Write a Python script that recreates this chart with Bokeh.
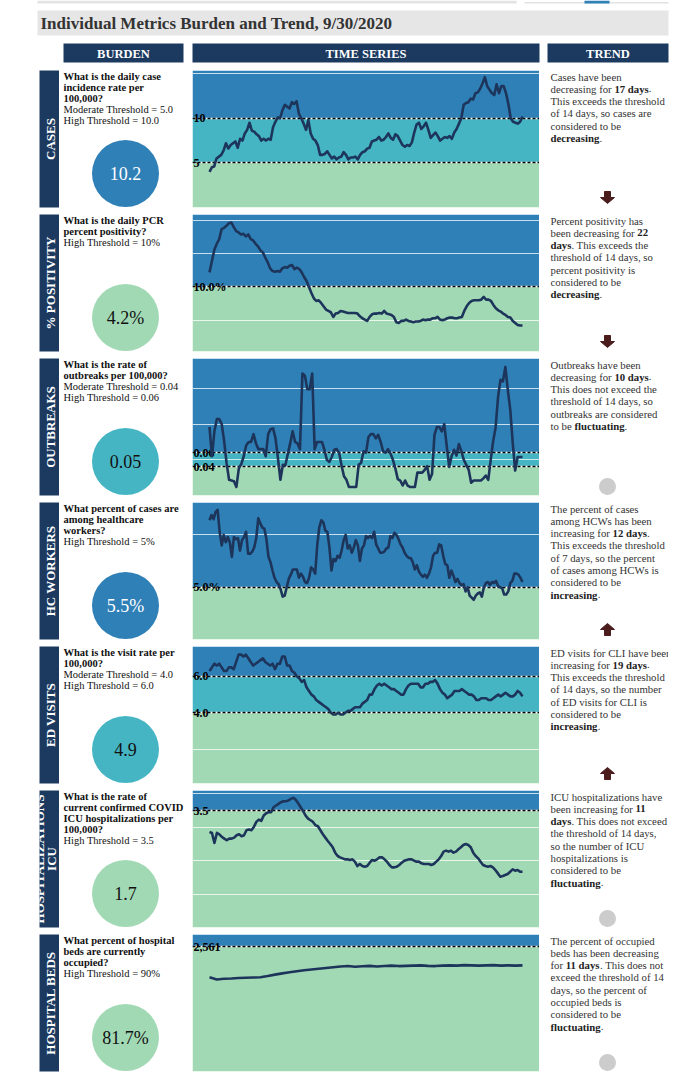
import math
from bokeh.plotting import figure
from bokeh.layouts import column, row
from bokeh.models import Range1d, Spacer
from bokeh.core.properties import value
from bokeh.embed import file_html
from bokeh.resources import INLINE

# ---------------- DATA ----------------
title_text = "Individual Metrics Burden and Trend, 9/30/2020"
header_labels = ["BURDEN", "TIME SERIES", "TREND"]
metric_names = ["CASES", "% POSITIVITY", "OUTBREAKS", "HC WORKERS", "ED VISITS", "ICU HOSPITALIZATIONS", "HOSPITAL BEDS"]

cases_rate = [4.0, 4.5, 4.6, 5.5, 5.7, 5.9, 6.4, 7.2, 6.6, 7.0, 7.2, 7.4, 6.7, 7.7, 7.5, 8.3, 8.7, 9.5, 8.6, 8.5,
              8.2, 8.0, 7.5, 7.7, 7.5, 7.7, 7.6, 9.0, 9.6, 10.1, 10.0, 10.9, 11.5, 11.3, 11.1, 11.8, 11.6, 11.9, 10.5, 10.0,
              9.4, 8.7, 9.8, 8.3, 7.7, 7.5, 7.0, 5.9, 5.9, 6.0, 6.3, 5.9, 5.5, 5.7, 5.4, 5.6, 5.7, 6.2, 5.9, 5.4,
              5.6, 5.6, 5.7, 5.4, 5.9, 6.2, 6.3, 6.6, 6.7, 7.4, 7.5, 7.6, 7.9, 7.5, 7.6, 7.9, 8.3, 7.8, 7.6, 8.2,
              8.0, 7.5, 7.0, 6.8, 7.0, 6.9, 7.3, 8.4, 9.3, 9.5, 8.8, 9.1, 9.5, 8.7, 7.8, 8.1, 8.4, 8.0, 7.5, 7.7,
              7.9, 7.8, 8.0, 7.7, 8.4, 8.8, 9.4, 10.0, 11.5, 11.7, 11.8, 12.2, 12.1, 12.8, 12.9, 13.3, 13.9, 14.6, 13.6, 13.2,
              12.8, 12.6, 13.8, 12.8, 13.6, 13.6, 12.8, 11.6, 10.0, 9.6, 9.5, 9.4, 9.6, 10.2]

positivity_pct = [12.2, 13.9, 15.6, 16.5, 17.2, 18.7, 18.9, 19.2, 19.6, 19.7, 19.0, 18.4, 18.2, 17.9, 18.0, 17.6, 17.9, 17.2,
                  17.0, 16.5, 16.1, 15.5, 15.2, 14.4, 13.7, 12.8, 12.4, 12.3, 12.4, 12.3, 12.8, 13.0, 12.9, 13.2, 13.3, 12.7,
                  12.9, 12.7, 12.2, 11.5, 10.9, 10.0, 9.1, 8.3, 7.9, 8.0, 7.6, 7.1, 6.6, 6.4, 6.2, 5.5, 6.0, 6.1, 6.4, 6.3,
                  6.2, 6.1, 6.1, 6.1, 6.1, 6.0, 5.6, 5.3, 5.1, 4.9, 5.5, 5.9, 6.0, 6.0, 6.1, 6.0, 6.4, 6.0, 5.9, 5.8, 5.5,
                  4.7, 4.6, 4.9, 4.9, 5.1, 4.9, 4.8, 4.7, 4.8, 4.8, 4.9, 5.1, 5.0, 5.1, 5.1, 5.3, 5.3, 5.5, 5.1, 5.0, 5.1,
                  5.3, 5.4, 5.4, 5.3, 5.3, 5.4, 5.5, 6.4, 7.1, 7.6, 7.9, 8.0, 8.0, 8.0, 8.1, 8.5, 8.1, 8.1, 7.9, 7.3, 6.8,
                  6.5, 6.3, 6.0, 5.8, 5.5, 5.4, 4.9, 4.6, 4.3, 4.2, 4.2]

outbreak_rate = [0.096, 0.055, 0.09, 0.107, 0.107, 0.1, 0.076, 0.045, 0.022, 0.021, 0.02, 0.012, 0.038, 0.044, 0.055,
                 0.07, 0.075, 0.075, 0.086, 0.073, 0.065, 0.065, 0.065, 0.055, 0.086, 0.093, 0.094, 0.08, 0.052, 0.022,
                 0.043, 0.042, 0.058, 0.073, 0.09, 0.075, 0.073, 0.065, 0.171, 0.168, 0.149, 0.149, 0.171, 0.065, 0.075,
                 0.075, 0.075, 0.064, 0.05, 0.047, 0.054, 0.064, 0.065, 0.06, 0.042, 0.027, 0.022, 0.012, 0.012, 0.012,
                 0.012, 0.043, 0.046, 0.062, 0.06, 0.082, 0.086, 0.086, 0.08, 0.085, 0.075, 0.062, 0.06, 0.065, 0.059,
                 0.05, 0.038, 0.023, 0.021, 0.014, 0.021, 0.014, 0.012, 0.012, 0.012, 0.032, 0.032, 0.032, 0.036, 0.041,
                 0.022, 0.03, 0.085, 0.096, 0.096, 0.09, 0.1, 0.07, 0.04, 0.055, 0.064, 0.056, 0.072, 0.062, 0.05,
                 0.043, 0.036, 0.018, 0.021, 0.021, 0.021, 0.021, 0.024, 0.028, 0.022, 0.05, 0.076, 0.095, 0.138, 0.162,
                 0.16, 0.18, 0.148, 0.12, 0.074, 0.035, 0.054, 0.054, 0.054]

hcw_pct = [11.4, 11.9, 11.5, 12.2, 12.4, 10.3, 9.0, 10.0, 9.3, 9.8, 9.3, 7.9, 9.8, 9.6, 9.7, 8.5, 9.5, 9.8, 10.3, 8.2,
           8.2, 8.4, 8.8, 9.7, 11.6, 11.1, 10.7, 10.6, 9.6, 7.9, 7.4, 6.6, 5.9, 5.5, 5.3, 4.8, 4.1, 4.2, 5.0, 5.8,
           6.2, 6.7, 6.7, 6.7, 5.9, 6.3, 6.0, 5.5, 5.4, 5.9, 6.9, 6.7, 6.3, 9.0, 10.7, 11.4, 11.2, 10.4, 10.3, 8.8,
           6.6, 7.7, 7.5, 8.0, 7.8, 8.5, 9.5, 10.0, 8.7, 9.0, 8.3, 8.8, 9.5, 9.0, 7.5, 8.7, 9.0, 9.9, 9.7, 9.9,
           9.7, 10.3, 9.1, 8.7, 8.3, 8.3, 8.4, 8.7, 8.8, 9.9, 9.7, 10.2, 10.0, 9.6, 9.1, 8.8, 8.3, 8.0, 7.8, 7.8,
           7.4, 6.7, 7.1, 6.5, 6.2, 6.0, 6.2, 5.9, 6.3, 6.9, 8.0, 8.3, 8.3, 9.1, 9.0, 8.0, 7.2, 7.1, 5.9, 6.6,
           6.1, 5.5, 5.8, 5.4, 5.2, 5.3, 4.6, 5.0, 4.2, 4.0, 3.8, 4.2, 4.4, 4.5, 4.1, 5.0, 5.4, 5.5, 5.2, 5.5,
           5.4, 5.6, 5.1, 5.0, 4.9, 4.3, 4.3, 4.6, 5.4, 5.6, 6.3, 6.3, 6.2, 5.9, 5.5]

ed_rate = [6.3, 6.5, 6.7, 6.6, 6.7, 6.5, 6.3, 6.3, 6.5, 6.5, 6.4, 6.8, 7.2, 7.2, 7.1, 7.2, 7.0, 6.8, 6.6, 6.7,
           6.8, 6.9, 7.0, 6.8, 6.7, 6.6, 6.7, 6.4, 6.7, 6.7, 7.1, 7.1, 6.6, 6.6, 6.3, 6.2, 6.0, 5.9, 5.7, 5.8,
           5.4, 5.2, 5.0, 4.9, 4.7, 4.6, 4.5, 4.4, 4.3, 4.2, 4.0, 3.9, 3.9, 4.0, 3.9, 3.9, 4.0, 4.1, 4.1, 4.2,
           4.3, 4.3, 4.3, 4.5, 4.6, 4.7, 5.0, 5.0, 5.3, 5.5, 5.6, 5.5, 5.6, 5.5, 5.4, 5.3, 5.3, 5.2, 5.1, 5.0,
           5.0, 5.3, 5.5, 5.6, 5.6, 5.6, 5.6, 5.4, 5.4, 5.6, 5.6, 5.7, 5.7, 5.8, 5.6, 5.3, 5.1, 5.0, 4.8, 4.9,
           5.0, 5.2, 5.2, 5.2, 5.3, 5.2, 5.1, 5.0, 5.0, 4.9, 4.7, 4.7, 4.8, 4.8, 4.8, 4.7, 4.7, 4.8, 4.9, 5.0,
           4.9, 5.0, 5.1, 5.0, 4.9, 4.9, 5.0, 5.2, 5.1, 4.9]

icu_rate = [2.86, 2.83, 2.53, 2.83, 2.79, 2.71, 2.66, 2.61, 2.66, 2.66, 2.69, 2.76, 2.79, 2.73, 2.76, 2.91, 2.93, 2.91,
            3.01, 3.16, 3.23, 3.19, 3.35, 3.42, 3.45, 3.45, 3.6, 3.65, 3.7, 3.75, 3.78, 3.78, 3.8, 3.85, 3.88, 3.82,
            3.72, 3.6, 3.48, 3.35, 3.26, 3.21, 3.16, 3.06, 3.03, 2.91, 2.79, 2.69, 2.59, 2.5, 2.4, 2.24, 2.14, 2.1,
            2.07, 2.04, 2.04, 2.02, 2.04, 1.97, 1.84, 1.9, 1.84, 1.82, 1.84, 1.94, 2.02, 2.0, 2.04, 2.1, 2.1, 2.04,
            1.97, 1.87, 1.8, 1.8, 1.82, 1.87, 1.94, 2.0, 2.02, 2.04, 2.04, 2.0, 1.97, 1.97, 1.92, 1.9, 1.9, 1.9,
            1.87, 1.9, 1.97, 2.04, 2.14, 2.27, 2.3, 2.27, 2.3, 2.24, 2.27, 2.34, 2.4, 2.47, 2.5, 2.47, 2.4, 2.24,
            2.14, 2.07, 1.97, 1.87, 1.84, 1.82, 1.84, 1.8, 1.72, 1.62, 1.52, 1.54, 1.57, 1.6, 1.67, 1.74, 1.7,
            1.72, 1.67, 1.67]

beds_occupied = [1930, 1885, 1900, 1905, 1915, 1920, 1925, 1930, 1955, 1985, 2010, 2035, 2055, 2075, 2090, 2105,
                 2120, 2135, 2150, 2160, 2145, 2155, 2165, 2150, 2160, 2170, 2160, 2165, 2170, 2175, 2165, 2160,
                 2170, 2175, 2170, 2180, 2175, 2170, 2175, 2180, 2170, 2175, 2170, 2175]

# y domains, thresholds, gridlines, threshold labels
y_domains = [(0.0, 15.35), (0.3, 20.9), (0.0, 0.192), (0.0, 13.1), (0.1, 7.65), (0.0, 4.1), (0.0, 2807.0)]
moderate_thr = [5.0, None, 0.04, None, 4.0, None, None]
high_thr = [10.0, 10.0, 0.06, 5.0, 6.0, 3.5, 2561.0]
grid_vals = [[15.0], [5.0, 15.0, 20.0], [0.05, 0.10, 0.15], [10.0], [2.0], [1.0, 2.0, 3.0, 4.0], []]
thr_labels = [["10", "5"], ["10.0%"], ["0.06", "0.04"], ["5.0%"], ["6.0", "4.0"], ["3.5"], ["2,561"]]

questions = [
    ["What is the daily case", "incidence rate per", "100,000?"],
    ["What is the daily PCR", "percent positivity?"],
    ["What is the rate of", "outbreaks per 100,000?"],
    ["What percent of cases are", "among healthcare", "workers?"],
    ["What is the visit rate per", "100,000?"],
    ["What is the rate of", "current confirmed COVID", "ICU hospitalizations per", "100,000?"],
    ["What percent of hospital", "beds are currently", "occupied?"],
]
threshold_texts = [
    ["Moderate Threshold = 5.0", "High Threshold = 10.0"],
    ["High Threshold = 10%"],
    ["Moderate Threshold = 0.04", "High Threshold = 0.06"],
    ["High Threshold = 5%"],
    ["Moderate Threshold = 4.0", "High Threshold = 6.0"],
    ["High Threshold = 3.5"],
    ["High Threshold = 90%"],
]
burden_values = ["10.2", "4.2%", "0.05", "5.5%", "4.9", "1.7", "81.7%"]
burden_levels = ["high", "low", "moderate", "high", "moderate", "low", "low"]

trend_texts = [
    [" Cases have been", "decreasing for **17 days**.", "This exceeds the threshold", "of 14 days, so cases are",
     "considered to be", "**decreasing**."],
    ["Percent positivity has", "been decreasing for **22**", "**days**. This exceeds the", "threshold of 14 days, so",
     "percent positivity is", "considered to be", "**decreasing**."],
    ["Outbreaks have been", "decreasing for **10 days**.", "This does not exceed the", "threshold of 14 days, so",
     "outbreaks are considered", "to be **fluctuating**."],
    ["The percent of cases", "among HCWs has been", "increasing for **12 days**.", "This exceeds the threshold",
     "of 7 days, so the percent", "of cases among HCWs is", "considered to be", "**increasing**."],
    ["ED visits for CLI have been", "increasing for **19 days**.", "This exceeds the threshold",
     "of 14 days, so the number", "of ED visits for CLI is", "considered to be", "**increasing**."],
    ["ICU hospitalizations have", "been increasing for **11**", "**days**. This does not exceed",
     "the threshold of 14 days,", "so the number of ICU", "hospitalizations is", "considered to be",
     "**fluctuating**."],
    ["The percent of occupied", "beds has been decreasing", "for **11 days**. This does not",
     "exceed the threshold of 14", "days, so the percent of", "occupied beds is", "considered to be",
     "**fluctuating**."],
]
trend_dirs = ["down", "down", "flat", "up", "up", "flat", "flat"]

series = [cases_rate, positivity_pct, outbreak_rate, hcw_pct, ed_rate, icu_rate, beds_occupied]

# ---------------- STYLE ----------------
SERIF = "Liberation Serif"
NAVY = "#1c3a5f"
LINE = "#1d355b"
BLUE = "#2f80b7"
TEAL = "#45b5c4"
GREEN = "#a2d9b5"
LEVEL_COL = {"high": BLUE, "moderate": TEAL, "low": GREEN}
ARROW = "#4a1c1c"
TREND_FS = 10.75

REG_UP = [722, 667, 667, 722, 611, 556, 722, 722, 333, 389, 722, 611, 889, 722, 722, 556, 722, 667, 556, 611, 722, 722, 944, 722, 722, 611]
REG_LO = [444, 500, 444, 500, 444, 333, 500, 500, 278, 278, 500, 278, 778, 500, 500, 500, 500, 333, 389, 278, 500, 500, 722, 500, 500, 444]
BLD_UP = [722, 667, 722, 722, 667, 611, 778, 778, 389, 500, 778, 667, 944, 722, 778, 611, 778, 722, 556, 667, 722, 722, 1000, 722, 722, 667]
BLD_LO = [500, 556, 444, 556, 444, 333, 500, 556, 278, 333, 556, 278, 833, 556, 500, 556, 556, 444, 389, 333, 556, 500, 722, 500, 500, 444]
PUNCT = {' ': 250, ',': 250, '.': 250, '%': 833, '?': 444, '=': 564, '-': 333, ':': 278}


def text_width(s, bold, size):
    tot = 0
    for c in s:
        if 'A' <= c <= 'Z':
            tot += (BLD_UP if bold else REG_UP)[ord(c) - 65]
        elif 'a' <= c <= 'z':
            tot += (BLD_LO if bold else REG_LO)[ord(c) - 97]
        elif c.isdigit():
            tot += 500
        else:
            tot += PUNCT.get(c, 500)
    return tot / 1000.0 * size


FRAME_H = 137


def base_fig(w, h, xr, yr, bg="white"):
    p = figure(width=w, height=h, x_range=xr, y_range=yr, x_axis_type=None, y_axis_type=None,
               toolbar_location=None, output_backend="svg", min_border=0,
               min_border_left=0, min_border_right=0, min_border_top=0, min_border_bottom=h - FRAME_H,
               outline_line_color=None, background_fill_color=bg, border_fill_color="white")
    p.grid.visible = False
    return p


# ---------------- TOP (title + headers) ----------------
top = figure(width=670, height=70, x_range=Range1d(0, 670), y_range=Range1d(70, 0), x_axis_type=None,
             y_axis_type=None, toolbar_location=None, output_backend="svg", min_border=0,
             outline_line_color=None, border_fill_color="white")
top.grid.visible = False
# thin decorative strip at the very top
top.quad(left=[37, 524], right=[516, 668], top=[0, 1.5], bottom=[3, 3], fill_color="#e3e3e3", line_color=None)
top.quad(left=[584], right=[609], top=[0], bottom=[3], fill_color=BLUE, line_color=None)
top.quad(left=[37], right=[668], top=[10], bottom=[35], fill_color="#e6e6e6", line_color=None)
top.text(x=[40], y=[23], text=[title_text], text_font=value(SERIF), text_font_style="bold",
         text_font_size="17px", text_color="#333333", text_baseline="middle")
hl = [63, 192, 547]
hr = [183, 539, 668]
top.quad(left=hl, right=hr, top=[43] * 3, bottom=[62] * 3, fill_color=NAVY, line_color=None)
top.text(x=[(a + b) / 2 for a, b in zip(hl, hr)], y=[53] * 3, text=header_labels, text_font=value(SERIF),
         text_font_style="bold", text_font_size="12.5px", text_color="white", text_align="center",
         text_baseline="middle")

rows = [top]
for i in range(7):
    last = (i == 6)
    H = 139 if last else 144

    # label bar
    lab = base_fig(20, H, Range1d(0, 20), Range1d(0, FRAME_H), bg=NAVY)
    if metric_names[i] == "ICU HOSPITALIZATIONS":
        lab.text(x=[12.0, -0.5], y=[FRAME_H / 2] * 2, text=["ICU", "HOSPITALIZATIONS"], angle=math.pi / 2,
                 text_font=value(SERIF), text_font_style="bold", text_font_size="13px", text_color="white",
                 text_align="center", text_baseline="middle")
    else:
        lab.text(x=[10.5], y=[FRAME_H / 2], text=[metric_names[i]], angle=math.pi / 2,
                 text_font=value(SERIF), text_font_style="bold", text_font_size="13px", text_color="white",
                 text_align="center", text_baseline="middle")

    # burden
    bur = base_fig(133, H, Range1d(0, 133), Range1d(FRAME_H, 0))
    q = questions[i]
    t = threshold_texts[i]
    bur.text(x=[4] * len(q), y=[5.5 + 11 * k for k in range(len(q))], text=q, text_font=value(SERIF),
             text_font_style="bold", text_font_size="10.5px", text_color="#111111", text_baseline="middle")
    bur.text(x=[4] * len(t), y=[5.5 + 11 * (len(q) + k) for k in range(len(t))], text=t, text_font=value(SERIF),
             text_font_size="10.5px", text_color="#111111", text_baseline="middle")
    col = LEVEL_COL[burden_levels[i]]
    bur.circle(x=[66], y=[103], radius=33.5, radius_units="screen", fill_color=col, line_color=None)
    bur.text(x=[66], y=[103], text=[burden_values[i]], text_font=value(SERIF), text_font_size="18px",
             text_color="white" if burden_levels[i] == "high" else "#111111", text_align="center",
             text_baseline="middle")

    # time series chart
    vals = series[i]
    n = len(vals)
    span = n - 1
    pad = span * 17.0 / 313.0
    y0, y1 = y_domains[i]
    ch = base_fig(347, H, Range1d(-pad, span + pad), Range1d(y0, y1))
    mod = moderate_thr[i]
    hi = high_thr[i]
    if mod is None:
        s0, s1, sc = [y0, hi], [hi, y1], [GREEN, BLUE]
        thr = [hi]
    else:
        s0, s1, sc = [y0, mod, hi], [mod, hi, y1], [GREEN, TEAL, BLUE]
        thr = [hi, mod]
    ch.hstrip(y0=s0, y1=s1, fill_color=sc, line_color=None)
    if grid_vals[i]:
        ch.hspan(y=grid_vals[i], line_color="white", line_alpha=0.75, line_width=1)
    ch.hspan(y=thr, line_color="white", line_width=1.6)
    ch.hspan(y=thr, line_color="black", line_width=1.6, line_dash="3 2")
    ch.text(x=[-pad] * len(thr), y=thr, text=thr_labels[i], text_font=value(SERIF), text_font_style="bold",
            text_font_size="12px", text_color="black", text_baseline="alphabetic", x_offset=1)
    ch.line(list(range(n)), vals, line_color=LINE, line_width=2.6, line_join="round")

    # trend
    tr = base_fig(129, H, Range1d(0, 129), Range1d(FRAME_H, 0))
    nx, ny, nt, bx, by, bt = [], [], [], [], [], []
    for k, line in enumerate(trend_texts[i]):
        parts = line.split("**")
        cx = 11.0
        yy = 6 + 12.3 * k
        for j, seg in enumerate(parts):
            if not seg:
                continue
            bold = (j % 2 == 1)
            if bold:
                bx.append(cx); by.append(yy); bt.append(seg)
            else:
                nx.append(cx); ny.append(yy); nt.append(seg)
            cx += text_width(seg, bold, TREND_FS)
    tr.text(x=nx, y=ny, text=nt, text_font=value(SERIF), text_font_size=f"{TREND_FS}px", text_color="#333333",
            text_baseline="middle")
    tr.text(x=bx, y=by, text=bt, text_font=value(SERIF), text_font_style="bold", text_font_size=f"{TREND_FS}px",
            text_color="#222222", text_baseline="middle")
    ax, ay = 68, 127
    if trend_dirs[i] == "down":
        xs = [ax - 3, ax + 3, ax + 3, ax + 7, ax, ax - 7, ax - 3]
        ys = [ay - 6, ay - 6, ay, ay, ay + 6, ay, ay]
        tr.patch(xs, ys, fill_color=ARROW, line_color=ARROW)
    elif trend_dirs[i] == "up":
        xs = [ax - 3, ax + 3, ax + 3, ax + 7, ax, ax - 7, ax - 3]
        ys = [ay + 6, ay + 6, ay, ay, ay - 6, ay, ay]
        tr.patch(xs, ys, fill_color=ARROW, line_color=ARROW)
    else:
        tr.circle(x=[ax], y=[ay + 1], radius=8.5, radius_units="screen", fill_color="#cccccc", line_color=None)

    rows.append(row(Spacer(width=39, height=H), lab, bur, ch, tr))

layout = column(*rows)
open("out.html", "w").write(file_html(layout, INLINE))
